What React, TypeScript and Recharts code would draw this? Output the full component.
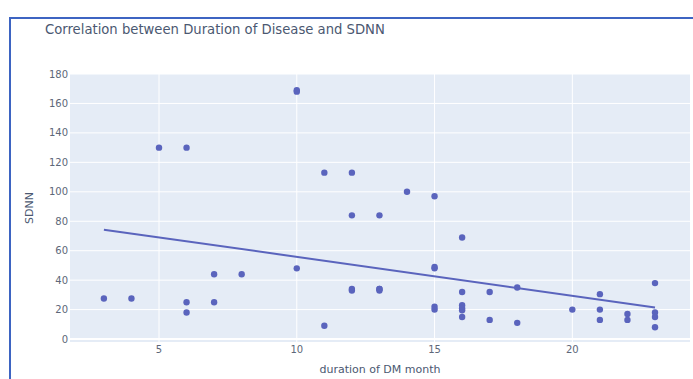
import React from 'react'
import {
  ScatterChart, Scatter, XAxis, YAxis, CartesianGrid, ReferenceLine,
} from 'recharts'

// duration of DM (months) and SDNN, one entry per patient
const durationMonths = [
  3, 4, 5, 6, 6, 6, 7, 7, 8,
  10, 10, 10, 11, 11,
  12, 12, 12, 12, 13, 13, 13, 13,
  14, 15, 15, 15, 15, 15,
  16, 16, 16, 16, 16, 16,
  17, 17, 18, 18, 20,
  21, 21, 21, 22, 22,
  23, 23, 23, 23,
]
const sdnnValues = [
  27.5, 27.5, 130, 130, 25, 18, 44, 25, 44,
  168, 169, 48, 113, 9,
  113, 84, 33, 34, 84, 33, 34, 34,
  100, 97, 48, 49, 22, 20,
  69, 32, 23, 21, 19.5, 15,
  32, 13, 35, 11, 20,
  30.5, 20, 13, 17, 13,
  38, 18, 15, 8,
]

// fitted regression line end points
const trendX = [3, 23]
const trendY = [74.3, 21.5]

const xTicks = [5, 10, 15, 20]
const yTicks = [0, 20, 40, 60, 80, 100, 120, 140, 160, 180]

const points = durationMonths.map((d, i) => ({ x: d, y: sdnnValues[i] }))
const trend = trendX.map((d, i) => ({ x: d, y: trendY[i] }))

const dotColor = '#5a64bd'
const font = "'DejaVu Sans', Verdana, sans-serif"
const tickStyle = { fontSize: 10, fill: '#5d6779', fontFamily: font }

const Dot = (props: any) => (
  <circle cx={props.cx} cy={props.cy} r={3.2} fill={dotColor} />
)

export default function App() {
  return (
    <div style={{ position: 'absolute', left: 0, top: 0, width: 693, height: 379, overflow: 'hidden', background: '#fff' }}>
      <div style={{
        position: 'absolute', left: 9, top: 17, width: 760, height: 420,
        border: '2px solid #3d64c2', boxSizing: 'border-box',
      }} />
      <div style={{
        position: 'absolute', left: 45, top: 22, fontFamily: font,
        fontSize: 13.2, color: '#4b5871', whiteSpace: 'nowrap',
      }}>
        Correlation between Duration of Disease and SDNN
      </div>
      <ScatterChart
        width={693}
        height={379}
        margin={{ top: 74, right: 3, bottom: 0, left: 20 }}
        style={{ position: 'absolute', left: 0, top: 0 }}
      >
        <CartesianGrid
          fill="#e5ecf6"
          stroke="#ffffff"
          strokeWidth={1}
          horizontalValues={yTicks}
          verticalValues={xTicks}
        />
        <XAxis
          type="number"
          dataKey="x"
          domain={[1.77, 24.27]}
          ticks={xTicks}
          allowDataOverflow
          axisLine={false}
          tickLine={false}
          tickSize={0}
          tickMargin={4}
          height={37}
          tick={tickStyle}
          label={{ value: 'duration of DM month', position: 'insideBottom', offset: 6, style: { fontSize: 11, fill: '#4b5871', fontFamily: font } }}
        />
        <YAxis
          type="number"
          dataKey="y"
          domain={[-2, 180]}
          ticks={yTicks}
          allowDataOverflow
          axisLine={false}
          tickLine={false}
          tickSize={0}
          tickMargin={2}
          width={50}
          tick={tickStyle}
          label={{ value: 'SDNN', angle: -90, position: 'insideLeft', offset: 9, style: { fontSize: 11, fill: '#4b5871', fontFamily: font, textAnchor: 'middle' } }}
        />
        <ReferenceLine y={0} stroke="#ffffff" strokeWidth={2} />
        <Scatter
          data={trend}
          line={{ stroke: dotColor, strokeWidth: 2 }}
          shape={() => <g />}
          isAnimationActive={false}
        />
        <Scatter data={points} shape={Dot} isAnimationActive={false} />
      </ScatterChart>
    </div>
  )
}
